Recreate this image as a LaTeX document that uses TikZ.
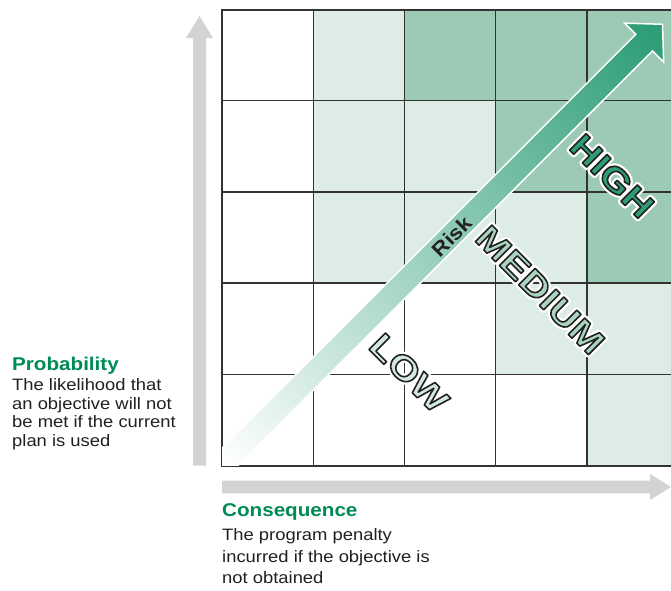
\documentclass[tikz,border=0pt]{standalone}
\usepackage{fontspec}
\setmainfont{Liberation Sans}
\newfontfamily\txtfont{Liberation Sans}[FakeStretch=1.115]
\newfontfamily\bigfont{Liberation Sans}[FakeStretch=1.2]
\definecolor{lightcell}{HTML}{DDECE4}
\definecolor{medcell}{HTML}{9CCAB4}
\definecolor{gridc}{HTML}{333333}
\definecolor{axisgray}{HTML}{D1D3D4}
\definecolor{riskgreen}{HTML}{289B73}
\definecolor{highfill}{HTML}{2E9C74}
\definecolor{medfill}{HTML}{AAD4BF}
\definecolor{lowfill}{HTML}{D3E9DD}
\definecolor{titlegreen}{HTML}{008A54}
\definecolor{bodytext}{HTML}{231F20}
\pgfdeclarehorizontalshading{riskshade}{60bp}{color(0bp)=(white); color(623bp)=(riskgreen)}
\newcommand\outl[3]{\special{pdf:literal direct 2 Tr #2 w #1 RG 1 j}#3\special{pdf:literal direct 0 Tr}}
\newcommand\halo[2]{\special{pdf:literal direct 1 Tr #1 w 1 1 1 RG 1 j}#2\special{pdf:literal direct 0 Tr}}
\tikzset{
  gridline/.style={draw=gridc, line width=1.3pt},
  axisarrow/.style={fill=axisgray},
  titletext/.style={anchor=base west, inner sep=0pt, text=titlegreen, font=\txtfont\bfseries\fontsize{18.5}{22}\selectfont},
  bodyblock/.style={anchor=base west, inner sep=0pt, align=left, text=bodytext},
  biglabel/.style={rotate=-45, inner sep=0pt, font=\bigfont\bfseries\fontsize{34}{34}\selectfont},
}
\begin{document}
\begin{tikzpicture}[x=1pt, y=-1pt]
\useasboundingbox (0,0) rectangle (671,590);
\clip (0,0) rectangle (671,590);
% cells
\foreach \r/\c in {0/1,1/1,1/2,2/1,2/2,2/3,3/3,3/4,4/4}
  \fill[lightcell] ({222+91.25*\c},{9.5+91.2*\r}) rectangle +(91.25,91.2);
\foreach \r/\c in {0/2,0/3,0/4,1/3,1/4,2/4}
  \fill[medcell] ({222+91.25*\c},{9.5+91.2*\r}) rectangle +(91.25,91.2);
% grid lines
\foreach \i in {1,2,3,4}
  \draw[gridline] ({222+91.25*\i},9.5) -- ({222+91.25*\i},465.5);
\foreach \j in {1,2,3,4}
  \draw[gridline] (222,{9.5+91.2*\j}) -- (680,{9.5+91.2*\j});
\draw[gridline, line width=2pt] (222,9.5) rectangle (680,465.5);
% axis arrows
\fill[axisarrow] (193,465.5) -- (193,38) -- (186,38) -- (199.5,16) -- (213,38) -- (206,38) -- (206,465.5) -- cycle;
\fill[axisarrow] (222,480.7) -- (650,480.7) -- (650,474) -- (671,487) -- (650,500) -- (650,493.3) -- (222,493.3) -- cycle;
% risk arrow
\begin{scope}
  \clip (222,9.5) rectangle (680,465.5);
  \begin{scope}
    \clip (213.66,456.46) -- (635.8,34.32) -- (624.62,23.14) -- (662.53,24.27) -- (663.66,62.18) -- (652.48,51.0) -- (230.34,473.14) -- cycle;
    \node[rotate=45, anchor=west, inner sep=0pt] (riskfill) at (222,464.8) {\pgfuseshading{riskshade}};
  \end{scope}
  \draw[white, line width=1.5pt, line join=miter] (213.66,456.46) -- (635.8,34.32) -- (624.62,23.14) -- (662.53,24.27) -- (663.66,62.18) -- (652.48,51.0) -- (230.34,473.14) -- cycle;
\end{scope}
% labels on the matrix
\node[rotate=45, inner sep=0pt, text=bodytext, font=\txtfont\bfseries\fontsize{20}{20}\selectfont] (risk) at (451.5,236.5) {Risk};
\node[biglabel, text=highfill] (high) at (612,176) {\rlap{\halo{6}{HIGH}}\outl{0.13 0.13 0.13}{1.6}{HIGH}};
\node[biglabel, text=medfill] (medium) at (540,290) {\rlap{\halo{6}{MEDIUM}}\outl{0.13 0.13 0.13}{1.6}{MEDIUM}};
\node[biglabel, text=lowfill] (low) at (409,373) {\rlap{\halo{6}{LOW}}\outl{0.13 0.13 0.13}{1.6}{LOW}};
% axis texts
\node[titletext] (probtitle) at (12,370.7) {Probability};
\node[bodyblock, font=\txtfont\fontsize{16.5}{18.7}\selectfont] (probbody) at (12,446.6) {The likelihood that\\an objective will not\\be met if the current\\plan is used};
\node[titletext] (constitle) at (222,516) {Consequence};
\node[bodyblock, font=\txtfont\fontsize{16.5}{21.7}\selectfont] (consbody) at (222,583.9) {The program penalty\\incurred if the objective is\\not obtained};
\end{tikzpicture}
\end{document}
